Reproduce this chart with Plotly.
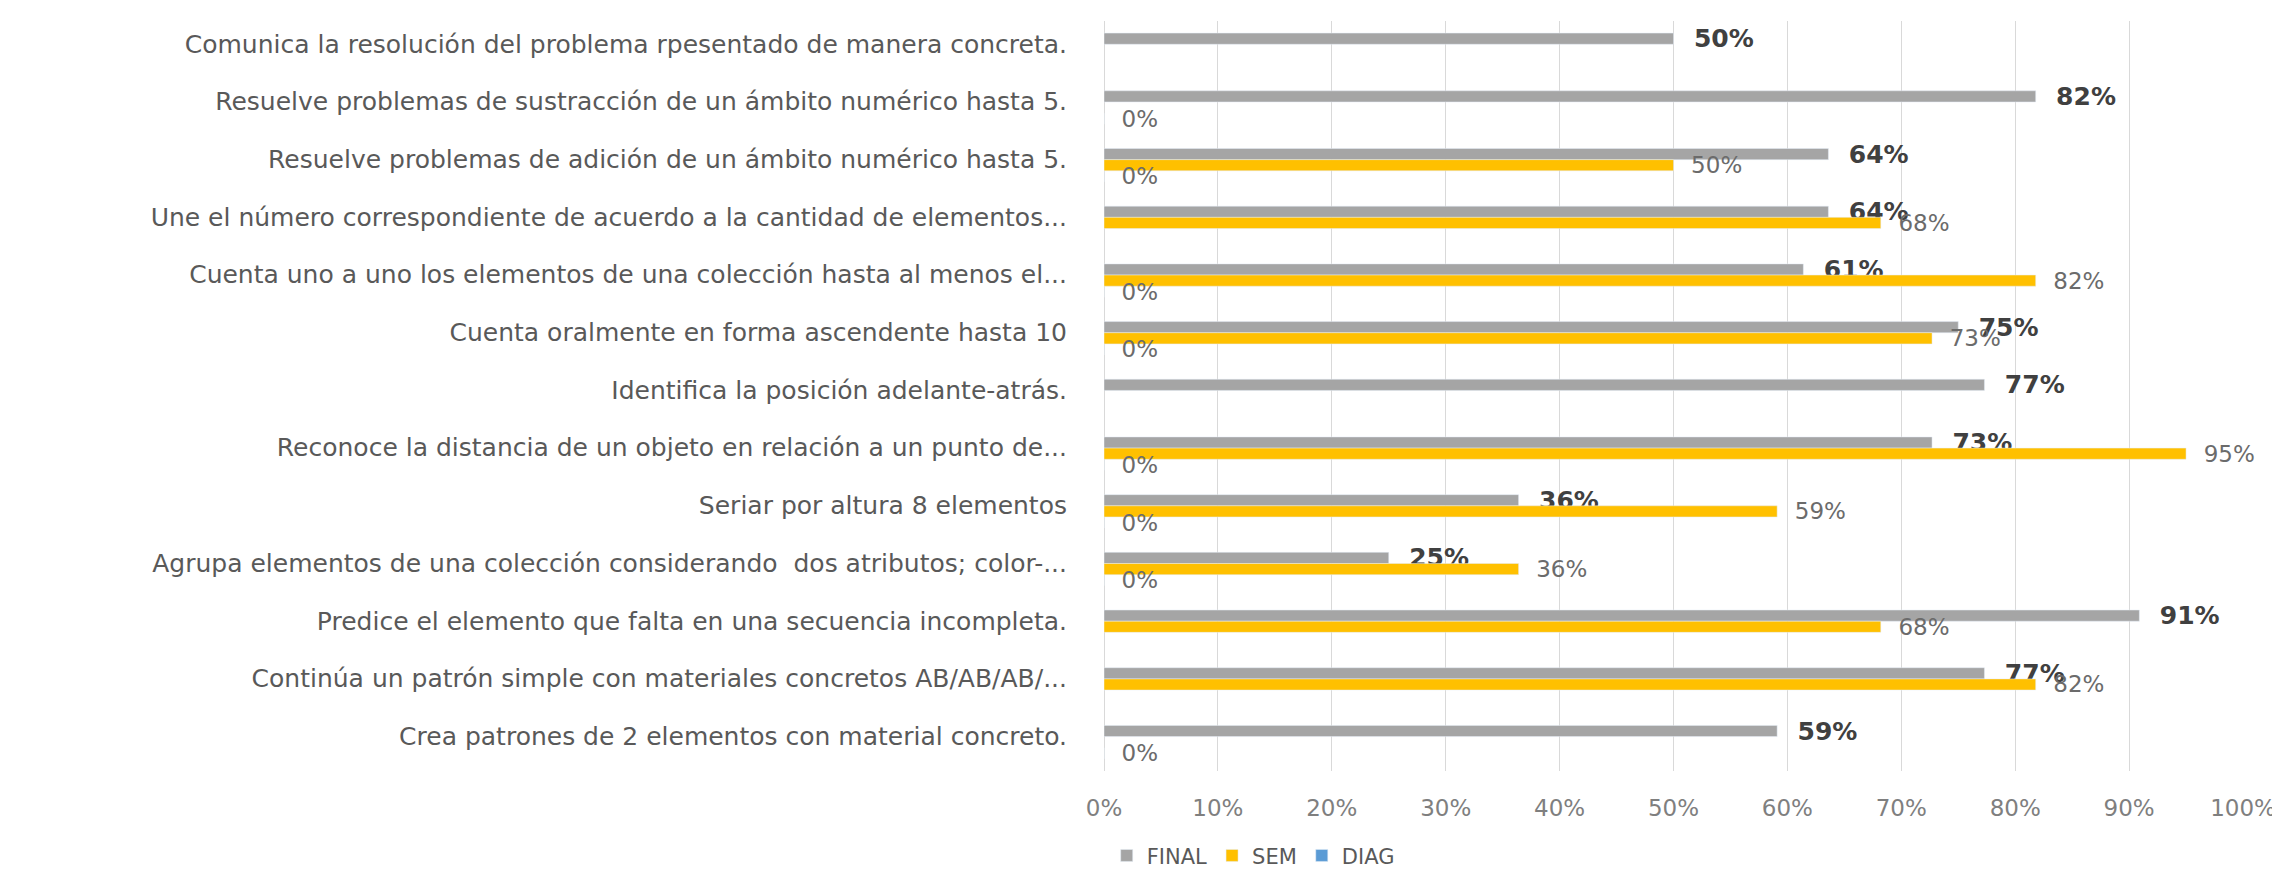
import plotly.graph_objects as go

categories = [
    "Comunica la resolución del problema rpesentado de manera concreta.",
    "Resuelve problemas de sustracción de un ámbito numérico hasta 5.",
    "Resuelve problemas de adición de un ámbito numérico hasta 5.",
    "Une el número correspondiente de acuerdo a la cantidad de elementos...",
    "Cuenta uno a uno los elementos de una colección hasta al menos el...",
    "Cuenta oralmente en forma ascendente hasta 10",
    "Identifica la posición adelante-atrás.",
    "Reconoce la distancia de un objeto en relación a un punto de...",
    "Seriar por altura 8 elementos",
    "Agrupa elementos de una colección considerando  dos atributos; color-...",
    "Predice el elemento que falta en una secuencia incompleta.",
    "Continúa un patrón simple con materiales concretos AB/AB/AB/...",
    "Crea patrones de 2 elementos con material concreto.",
]

final_vals = [0.50, 0.818, 0.636, 0.636, 0.614, 0.75, 0.773, 0.727, 0.364, 0.25, 0.909, 0.773, 0.591]
sem_vals = [None, None, 0.50, 0.682, 0.818, 0.727, None, 0.95, 0.591, 0.364, 0.682, 0.818, None]
diag_vals = [None, 0, 0, None, 0, 0, None, 0, 0, 0, None, None, 0]

x_ticks = [0, 0.1, 0.2, 0.3, 0.4, 0.5, 0.6, 0.7, 0.8, 0.9, 1.0]

FONT = "DejaVu Sans"
PAD = "\u00a0\u00a0"

fig = go.Figure()
fig.add_trace(go.Bar(
    name="FINAL", y=categories, x=final_vals, orientation="h",
    marker_color="#A5A5A5", texttemplate=PAD + "%{x:.0%}", textposition="outside",
    textfont=dict(family=FONT, size=25, color="#404040", weight="bold"),
    cliponaxis=False, constraintext="none",
))
fig.add_trace(go.Bar(
    name="SEM", y=categories, x=sem_vals, orientation="h",
    marker_color="#FFC000", texttemplate=PAD + "%{x:.0%}", textposition="outside",
    textfont=dict(family=FONT, size=23, color="#6B6B6B"),
    cliponaxis=False, constraintext="none",
))
fig.add_trace(go.Bar(
    name="DIAG", y=categories, x=diag_vals, orientation="h",
    marker_color="#5B9BD5", texttemplate=PAD + "%{x:.0%}", textposition="outside",
    textfont=dict(family=FONT, size=23, color="#6B6B6B"),
    cliponaxis=False, constraintext="none",
))

fig.update_layout(
    width=2280, height=874,
    margin=dict(l=1096, r=45, t=13, b=111),
    paper_bgcolor="white", plot_bgcolor="white",
    barmode="group", bargap=0.42, bargroupgap=0,
    font=dict(family=FONT, color="#595959"),
    showlegend=True,
    legend=dict(
        orientation="h", xref="paper", x=0.131, xanchor="center",
        yref="container", y=0.03, yanchor="middle",
        font=dict(family=FONT, size=21, color="#595959"),
        traceorder="normal",
    ),
)
fig.update_xaxes(
    range=[0, 1], tickvals=x_ticks, tickformat=".0%", automargin=False,
    showgrid=True, gridcolor="#D9D9D9", gridwidth=1,
    zeroline=True, zerolinecolor="#D9D9D9", zerolinewidth=1,
    showline=False, ticks="", ticklabelstandoff=21,
    tickfont=dict(family=FONT, size=23, color="#7F7F7F"),
)
fig.update_yaxes(
    autorange="reversed", automargin=False, showgrid=False, zeroline=False,
    showline=False, ticks="", ticklabelstandoff=36, ticklabelshift=6,
    tickfont=dict(family=FONT, size=25, color="#595959"),
)

fig.write_html("out.html")
